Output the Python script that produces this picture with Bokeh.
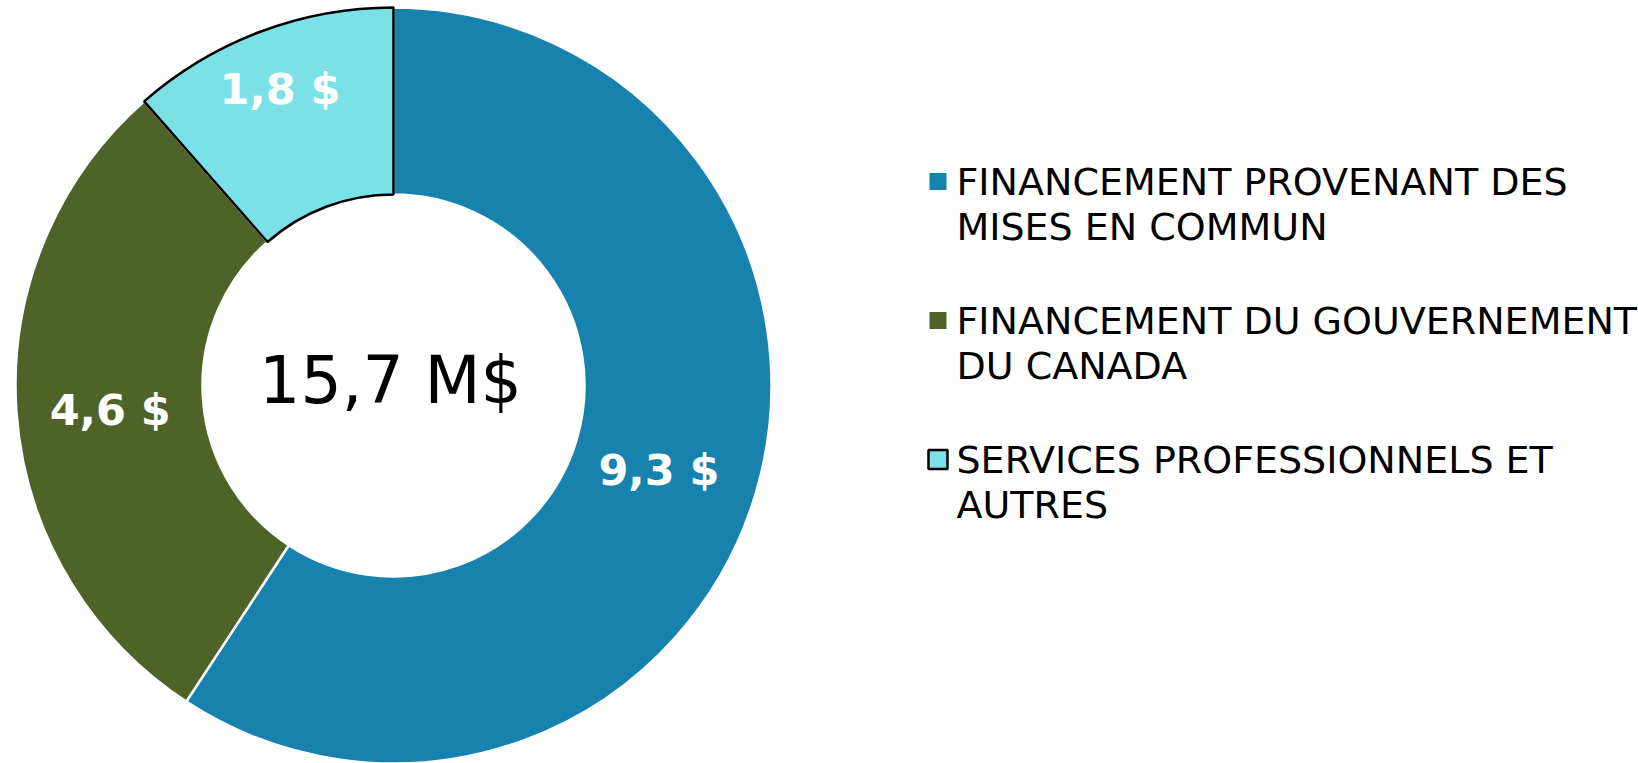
import math
from bokeh.plotting import figure
from bokeh.models import Range1d, ColumnDataSource
from bokeh.core.properties import value
from bokeh.embed import file_html
from bokeh.resources import INLINE

# ---- data ----
categories = [
    "FINANCEMENT PROVENANT DES\nMISES EN COMMUN",
    "FINANCEMENT DU GOUVERNEMENT\nDU CANADA",
    "SERVICES PROFESSIONNELS ET\nAUTRES",
]
values = [9.3, 4.6, 1.8]
colors = ["#1782AE", "#4F6228", "#7AE1E6"]

# ---- layout ----
W, H = 1638, 763
CX, CY = 393, 378
R_OUT, R_IN = 378, 191
label_r = [277, 284, 322]
FONT = "DejaVu Sans"

p = figure(width=W, height=H, output_backend="svg", toolbar_location=None,
           x_range=Range1d(0, W), y_range=Range1d(0, H),
           x_axis_type=None, y_axis_type=None, min_border=0)
p.outline_line_color = None
p.grid.visible = False
p.background_fill_color = "white"

total = sum(values)
starts, ends, lx, ly, ltxt = [], [], [], [], []
cum = 0.0
for i, v in enumerate(values):
    a0 = math.pi / 2 - 2 * math.pi * cum / total
    a1 = math.pi / 2 - 2 * math.pi * (cum + v) / total
    starts.append(a1)
    ends.append(a0)
    mid = (a0 + a1) / 2
    lx.append(CX + label_r[i] * math.cos(mid))
    ly.append(CY + label_r[i] * math.sin(mid) - 5)
    ltxt.append(f"{v:.1f}".replace(".", ",") + " $")
    cum += v

src = ColumnDataSource(dict(start=starts, end=ends, color=colors))
# base wedges with white separators
p.annular_wedge(x=CX, y=CY, inner_radius=R_IN, outer_radius=R_OUT,
                start_angle="start", end_angle="end", fill_color="color",
                line_color="white", line_width=2.5, source=src)
# outline for the last slice
last = ColumnDataSource(dict(start=[starts[2]], end=[ends[2]], color=[colors[2]]))
p.annular_wedge(x=CX, y=CY, inner_radius=R_IN, outer_radius=R_OUT,
                start_angle="start", end_angle="end", fill_color="color",
                line_color="black", line_width=2.5, source=last)

# slice labels
p.text(x=lx, y=ly, text=ltxt, text_color="white", text_font=value(FONT),
       text_font_style="bold", text_font_size="43px",
       text_align="center", text_baseline="middle")

# center total
p.text(x=[CX - 3], y=[CY + 5], text=[f"{total:.1f}".replace(".", ",") + " M$"],
       text_color="black", text_font=value(FONT), text_font_size="65px",
       text_align="center", text_baseline="middle")

# legend (manual, multi-line)
LX_SQ, LX_TXT = 937.5, 956
Y0, PITCH, LINE_H = 582, 139, 45
for i, lab in enumerate(categories):
    yc = Y0 - i * PITCH
    lines = lab.split("\n")
    for j, ln in enumerate(lines):
        p.text(x=[LX_TXT], y=[yc - j * LINE_H], text=[ln], text_color="black",
               text_font=value(FONT), text_font_size="38px",
               text_align="left", text_baseline="middle")
    if i == 2:
        p.rect(x=[LX_SQ], y=[yc], width=19, height=19, width_units="screen",
               height_units="screen", fill_color=colors[i], line_color="black",
               line_width=2.5)
    else:
        p.rect(x=[LX_SQ], y=[yc], width=17, height=17, width_units="screen",
               height_units="screen", fill_color=colors[i], line_color=None)

open("out.html", "w").write(file_html(p, INLINE))
